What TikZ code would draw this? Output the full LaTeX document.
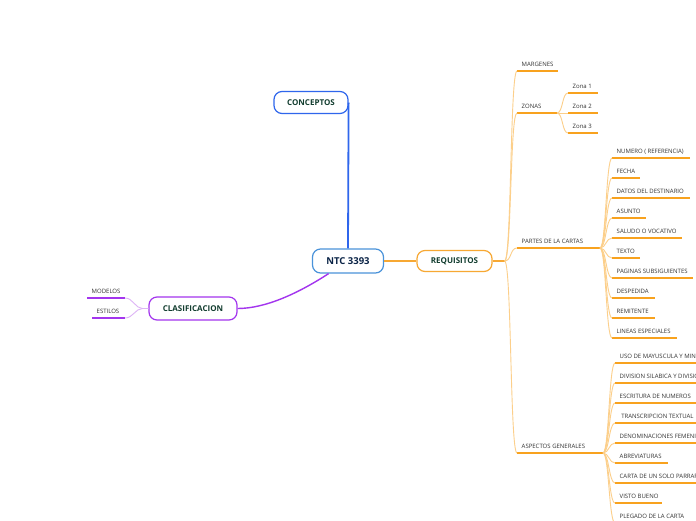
\documentclass[tikz,border=0pt]{standalone}
\usepackage{fontspec}
\setmainfont{Open Sans}
\definecolor{titlegreen}{HTML}{123D2F}
\definecolor{ntcnavy}{HTML}{0B2447}
\definecolor{leafgray}{HTML}{333333}
\definecolor{cblue}{HTML}{2F66EC}
\definecolor{nblue}{HTML}{4A93DA}
\definecolor{ulorange}{HTML}{F8A21E}
\definecolor{lightorange}{HTML}{FCCF8A}
\definecolor{rorange}{HTML}{F7A833}
\definecolor{cpurple}{HTML}{A335EE}
\definecolor{lpurple}{HTML}{DDB4F6}
\tikzset{
  mainbox/.style={draw, rounded corners=8pt, line width=1.2pt, fill=white,
    font=\fontsize{8}{9}\selectfont\bfseries, text=titlegreen, inner sep=0pt},
  leaf/.style={anchor=south west, inner xsep=4.5pt, inner ysep=4.5pt, text depth=0pt,
    font=\fontsize{6}{7}\selectfont, text=leafgray},
  uo/.style={draw=ulorange, line width=1.6pt},
  bo/.style={draw=lightorange, line width=0.9pt},
  up/.style={draw=cpurple, line width=1.6pt},
  bp/.style={draw=lpurple, line width=0.9pt}
}
\begin{document}
\begin{tikzpicture}[x=1pt,y=-1pt]
\useasboundingbox (0,0) rectangle (696,520);
\fill[white] (0,0) rectangle (696,520);
\clip (0,0) rectangle (696,520);

% main boxes
\node[mainbox, draw=cblue, minimum width=74pt, minimum height=22pt] (conc) at (311,102.5) {CONCEPTOS};
\node[mainbox, draw=nblue, text=ntcnavy, font=\fontsize{9.5}{11}\selectfont\bfseries, minimum width=71pt, minimum height=24pt] (ntc) at (348,261) {NTC 3393};
\node[mainbox, draw=rorange, minimum width=75pt, minimum height=21pt] (req) at (454.5,261) {REQUISITOS};
\node[mainbox, draw=cpurple, minimum width=88pt, minimum height=23pt] (cls) at (193,308.5) {CLASIFICACION};

% main connectors
\draw[draw=cblue, line width=1.8pt] (conc.east) -- (ntc.north);
\draw[draw=rorange, line width=1.8pt] (ntc.east) -- (req.west);
\draw[draw=cpurple, line width=1.4pt] (ntc.213) .. controls +(-30,19.5) and +(28,0) .. (cls.east);

% clasificacion leaves
\node[leaf] (mod) at (87,298) {MODELOS};
\draw[up] (mod.south west) -- ++(38,0) coordinate (mod-e);
\node[leaf] (est) at (92,318) {ESTILOS};
\draw[up] (est.south west) -- ++(33,0) coordinate (est-e);
\draw[bp] (cls.west) -- ++(-6,0) .. controls +(-7,0) and +(8,0) .. (mod-e);
\draw[bp] (cls.west) -- ++(-6,0) .. controls +(-7,0) and +(8,0) .. (est-e);

% requisitos trunk
\draw[draw=rorange, line width=1.6pt] (req.east) -- ++(12,0) coordinate (rj);
\node[leaf] (marg) at (517,71) {MARGENES};
\draw[uo] (marg.south west) -- ++(41,0);
\node[leaf] (zon) at (517,113) {ZONAS};
\draw[uo] (zon.south west) -- ++(40,0) coordinate (zon-e);
\node[leaf] (par) at (517,248) {PARTES DE LA CARTAS};
\draw[uo] (par.south west) -- ++(83,0) coordinate (par-e);
\node[leaf] (asp) at (517,453) {ASPECTOS GENERALES};
\draw[uo] (asp.south west) -- ++(86,0) coordinate (asp-e);
\foreach \c in {marg,zon,par,asp}
  \draw[bo] (rj) .. controls +(7,0) and +(-7,0) .. (\c.south west);

% zonas
\foreach \n/\y in {1/93,2/113,3/133}{
  \node[leaf] (z\n) at (568,\y) {Zona \n};
  \draw[uo] (z\n.south west) -- ++(30,0);
  \draw[bo] (zon-e) .. controls +(6,0) and +(-6,0) .. (z\n.south west);
}

% partes de la carta
\foreach \n/\y/\w/\t in {1/158/78/{NUMERO ( REFERENCIA)},2/178/28/FECHA,3/198/78/DATOS DEL DESTINARIO,
  4/218/34/ASUNTO,5/238/70/SALUDO O VOCATIVO,6/258/28/TEXTO,7/278/81/PAGINAS SUBSIGUIENTES,
  8/298/43/DESPEDIDA,9/318/43/REMITENTE,10/338/65/LINEAS ESPECIALES}{
  \node[leaf] (p\n) at (612,\y) {\t};
  \draw[uo] (p\n.south west) -- ++(\w,0);
  \draw[bo] (par-e) .. controls +(6,0) and +(-6,0) .. (p\n.south west);
}

% aspectos generales
\foreach \n/\y/\w/\t in {1/363/100/USO DE MAYUSCULA Y MINUSCULA,2/383/100/DIVISION SILABICA Y DIVISION DE PALABRAS,
  3/403/100/ESCRITURA DE NUMEROS,4/423/100/{\ TRANSCRIPCION TEXTUAL},5/443/100/DENOMINACIONES FEMENINAS,
  6/463/53/ABREVIATURAS,7/483/100/CARTA DE UN SOLO PARRAFO,8/503/47/VISTO BUENO,9/523/80/PLEGADO DE LA CARTA}{
  \node[leaf] (a\n) at (615,\y) {\t};
  \draw[uo] (a\n.south west) -- ++(\w,0);
  \draw[bo] (asp-e) .. controls +(6,0) and +(-6,0) .. (a\n.south west);
}
\end{tikzpicture}
\end{document}
